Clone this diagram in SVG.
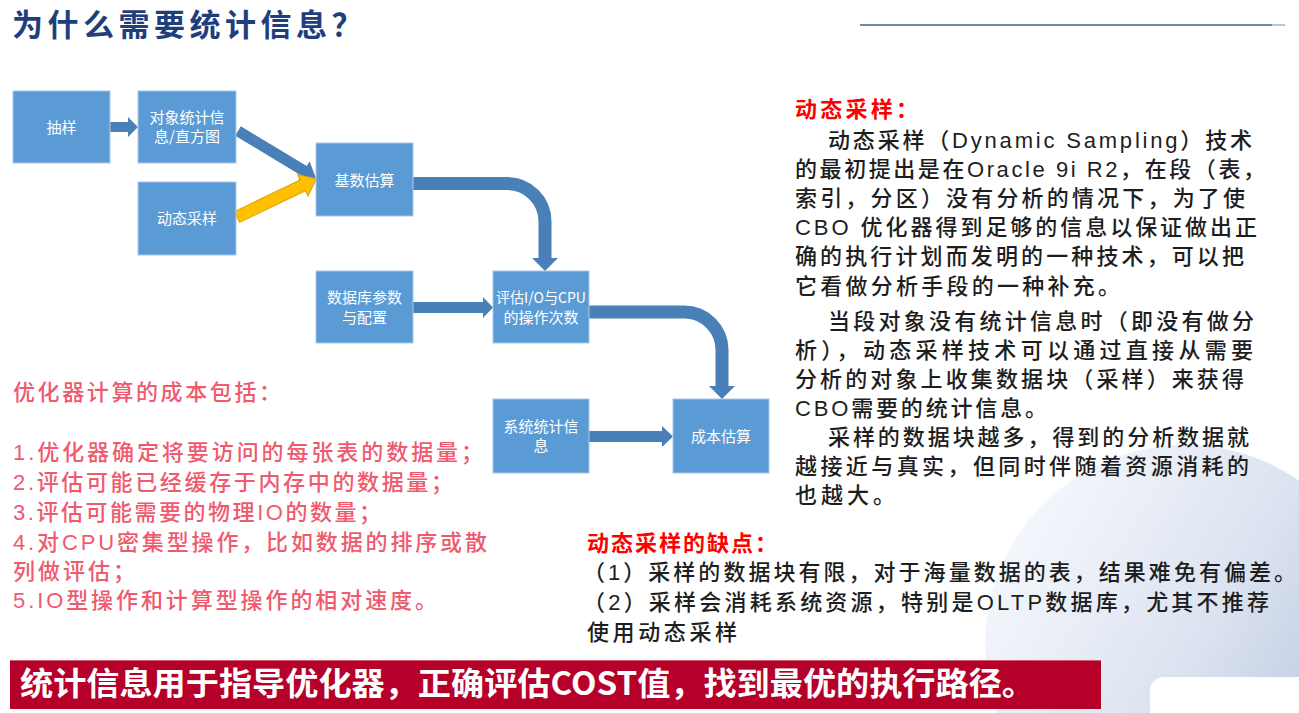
<svg xmlns="http://www.w3.org/2000/svg" width="1299" height="713" viewBox="0 0 1299 713">
<defs>
<linearGradient id="bgc" x1="0" y1="0.2" x2="1" y2="0.8">
<stop offset="0" stop-color="#f7f9fd"/>
<stop offset="0.5" stop-color="#dde4f1"/>
<stop offset="1" stop-color="#b3c1db"/>
</linearGradient>
<style>
.box{fill:#5b9bd5;stroke:#a9c8ea;stroke-width:1}
.bt{font-family:"Noto Sans CJK SC","Noto Sans",sans-serif;font-size:15px;fill:#ffffff;text-anchor:middle}
.arr{fill:#4a80b8}
.shaft{fill:none;stroke:#4a80b8;stroke-width:13}
.body{font-family:"Liberation Sans","Noto Sans CJK SC",sans-serif;font-size:22px;font-weight:500;fill:#1e1e1e}
.pink{font-family:"Liberation Sans","Noto Sans CJK SC",sans-serif;font-size:22px;font-weight:500;fill:#ef5a6e}
.red{font-family:"Noto Sans CJK SC","Noto Sans",sans-serif;font-size:22px;font-weight:bold;fill:#ff0000}
</style>
</defs>
<rect x="0" y="0" width="1299" height="713" fill="#ffffff"/>
<circle cx="1185" cy="645" r="200" fill="url(#bgc)"/>
<rect x="1150" y="677" width="170" height="50" rx="14" fill="#ffffff"/>

<g id="title">
<text x="12" y="36" font-family="'Noto Sans CJK SC','Noto Sans',sans-serif" font-size="31" font-weight="bold" fill="#1f3e7c" letter-spacing="4.5">为什么需要统计信息？</text>
<line x1="860" y1="25" x2="1272" y2="25" stroke="#6f87a8" stroke-width="2"/>
<line x1="1272" y1="25" x2="1285" y2="25" stroke="#b9c6d8" stroke-width="2"/>
</g>

<g id="connectors">
<polygon class="arr" points="110,122 128,122 128,117 138,127 128,137 128,132 110,132"/>
<polygon class="arr" transform="translate(238,131) rotate(31.1)" points="0,-5.5 77,-5.5 77,-11 91,0 77,11 77,5.5 0,5.5"/>
<polygon transform="translate(237,217) rotate(-25.7)" points="0,-6 73,-6 73,-12 88,0 73,12 73,6 0,6" fill="#ffc000" stroke="#dca400" stroke-width="1"/>
<path class="shaft" d="M413,183.5 H507 A38,38 0 0 1 545,221.5 V259"/>
<polygon class="arr" points="532,258 558,258 545,271"/>
<polygon class="arr" points="413,302 483,302 483,297 493,307.5 483,318 483,313 413,313"/>
<path class="shaft" d="M589,312 H684 A38,38 0 0 1 722,350 V387"/>
<polygon class="arr" points="709,386 735,386 722,399"/>
<polygon class="arr" points="589,431 662,431 662,426 673,436.5 662,447 662,442 589,442"/>
</g>

<g id="n-chouyang"><rect class="box" x="13" y="91" width="97" height="72"/><text class="bt" x="61.5" y="133">抽样</text></g>
<g id="n-duixiang"><rect class="box" x="138" y="91" width="98" height="72"/><text class="bt" x="187" y="123">对象统计信</text><text class="bt" x="187" y="142">息/直方图</text></g>
<g id="n-dongtai"><rect class="box" x="138" y="182" width="98" height="73"/><text class="bt" x="187" y="223.5">动态采样</text></g>
<g id="n-jishu"><rect class="box" x="316" y="143" width="97" height="73"/><text class="bt" x="364.5" y="186">基数估算</text></g>
<g id="n-shujuku"><rect class="box" x="316" y="271" width="97" height="72"/><text class="bt" x="364.5" y="302.5">数据库参数</text><text class="bt" x="364.5" y="322.5">与配置</text></g>
<g id="n-pinggu"><rect class="box" x="493" y="271" width="96" height="72"/><text class="bt" x="541" y="302.5" textLength="90" lengthAdjust="spacingAndGlyphs">评估I/O与CPU</text><text class="bt" x="541" y="322.5">的操作次数</text></g>
<g id="n-xitong"><rect class="box" x="493" y="399" width="96" height="74"/><text class="bt" x="541" y="431.5">系统统计信</text><text class="bt" x="541" y="450.5">息</text></g>
<g id="n-chengben"><rect class="box" x="673" y="399" width="96" height="74"/><text class="bt" x="721" y="441.5">成本估算</text></g>

<g id="cost-list">
<text class="pink" x="13" y="400" textLength="268">优化器计算的成本包括：</text>
<text class="pink" x="13" y="460" textLength="470">1.优化器确定将要访问的每张表的数据量；</text>
<text class="pink" x="13" y="490" textLength="440">2.评估可能已经缓存于内存中的数据量；</text>
<text class="pink" x="13" y="520" textLength="368">3.评估可能需要的物理IO的数量；</text>
<text class="pink" x="13" y="550" textLength="474">4.对CPU密集型操作，比如数据的排序或散</text>
<text class="pink" x="13" y="579" textLength="122">列做评估；</text>
<text class="pink" x="13" y="608" textLength="424">5.IO型操作和计算型操作的相对速度。</text>
</g>

<g id="dynamic-sampling">
<text class="red" x="795" y="117" textLength="123">动态采样：</text>
<text class="body" x="828" y="148" textLength="424">动态采样（Dynamic Sampling）技术</text>
<text class="body" x="795" y="177" textLength="470">的最初提出是在Oracle 9i R2，在段（表，</text>
<text class="body" x="795" y="206" textLength="450">索引，分区）没有分析的情况下，为了使</text>
<text class="body" x="795" y="235" textLength="462">CBO 优化器得到足够的信息以保证做出正</text>
<text class="body" x="795" y="264" textLength="449">确的执行计划而发明的一种技术，可以把</text>
<text class="body" x="795" y="294" textLength="325">它看做分析手段的一种补充。</text>
<text class="body" x="828" y="329" textLength="426">当段对象没有统计信息时（即没有做分</text>
<text class="body" x="795" y="358" textLength="458">析），动态采样技术可以通过直接从需要</text>
<text class="body" x="795" y="387" textLength="449">分析的对象上收集数据块（采样）来获得</text>
<text class="body" x="795" y="416" textLength="252">CBO需要的统计信息。</text>
<text class="body" x="828" y="445" textLength="421">采样的数据块越多，得到的分析数据就</text>
<text class="body" x="795" y="474" textLength="454">越接近与真实，但同时伴随着资源消耗的</text>
<text class="body" x="795" y="503" textLength="100">也越大。</text>
</g>

<g id="drawbacks">
<text class="red" x="587" y="551" textLength="190">动态采样的缺点：</text>
<text class="body" x="583" y="580" textLength="713">（1）采样的数据块有限，对于海量数据的表，结果难免有偏差。</text>
<text class="body" x="583" y="610" textLength="686">（2）采样会消耗系统资源，特别是OLTP数据库，尤其不推荐</text>
<text class="body" x="587" y="640" textLength="150">使用动态采样</text>
</g>

<g id="banner">
<rect x="10" y="660" width="1091" height="49" fill="#b5002a"/>
<line x1="10" y1="660.5" x2="1101" y2="660.5" stroke="#d06070" stroke-width="1"/>
<text x="20" y="695" font-family="'Noto Sans CJK SC','Noto Sans',sans-serif" font-size="32" font-weight="bold" fill="#ffffff" textLength="1015" lengthAdjust="spacingAndGlyphs">统计信息用于指导优化器，正确评估COST值，找到最优的执行路径。</text>
</g>
</svg>
